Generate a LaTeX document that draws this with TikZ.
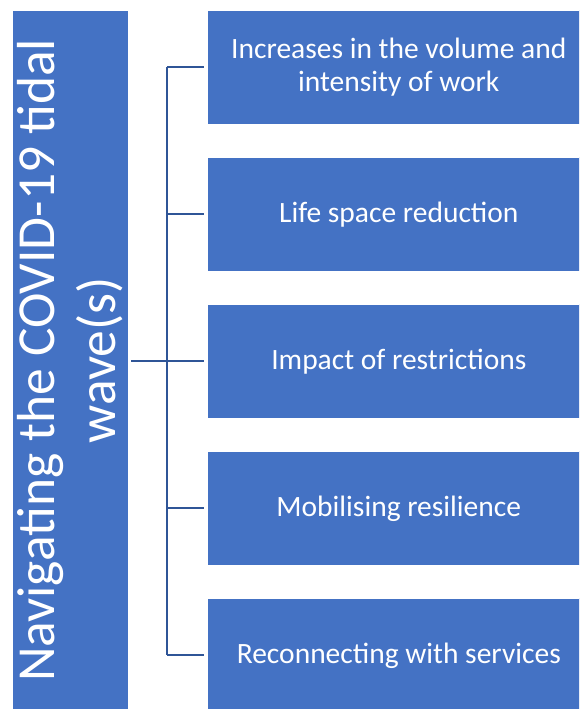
\documentclass[tikz,border=0pt]{standalone}
\usepackage{fontspec}
\setmainfont{Carlito}
\definecolor{boxblue}{HTML}{4472C4}
\definecolor{linkblue}{HTML}{2F5597}
\begin{document}
\begin{tikzpicture}[x=1pt,y=-1pt,
  topic/.style={fill=boxblue,draw=white,line width=0.6pt,minimum width=383pt,minimum height=114pt,inner sep=0pt,text=white,font=\fontsize{29.5}{33}\selectfont,align=center,anchor=north west},
  link/.style={draw=linkblue,line width=2pt}]
\useasboundingbox (0,0) rectangle (579,709);
\begin{scope}
\clip (0,0) rectangle (579,709);
\node[fill=boxblue,draw=white,line width=0.6pt,minimum width=116pt,minimum height=700pt,inner sep=0pt,anchor=north west] (main) at (11.5,10) {};
\node[rotate=90,text=white,font=\fontsize{53.5}{61}\selectfont,align=center] (maintext) at (main.center) {Navigating the COVID-19 tidal\\wave(s)};
\node[topic] (t1) at (207,10) {Increases in the volume and\\intensity of work};
\node[topic] (t2) at (207,157) {Life space reduction};
\node[topic] (t3) at (207,304) {Impact of restrictions};
\node[topic] (t4) at (207,451) {Mobilising resilience};
\node[topic] (t5) at (207,598) {Reconnecting with services};
\end{scope}
\coordinate (hub) at (167,361);
\coordinate (top) at (167,67);
\coordinate (bot) at (167,655);
\draw[link] ([xshift=3pt]main.east |- hub) -- (hub);
\draw[link] (top) -- (bot);
\foreach \i in {1,...,5}{
  \draw[link] (t\i.west -| hub) -- ([xshift=-3pt]t\i.west);
}
\end{tikzpicture}
\end{document}
